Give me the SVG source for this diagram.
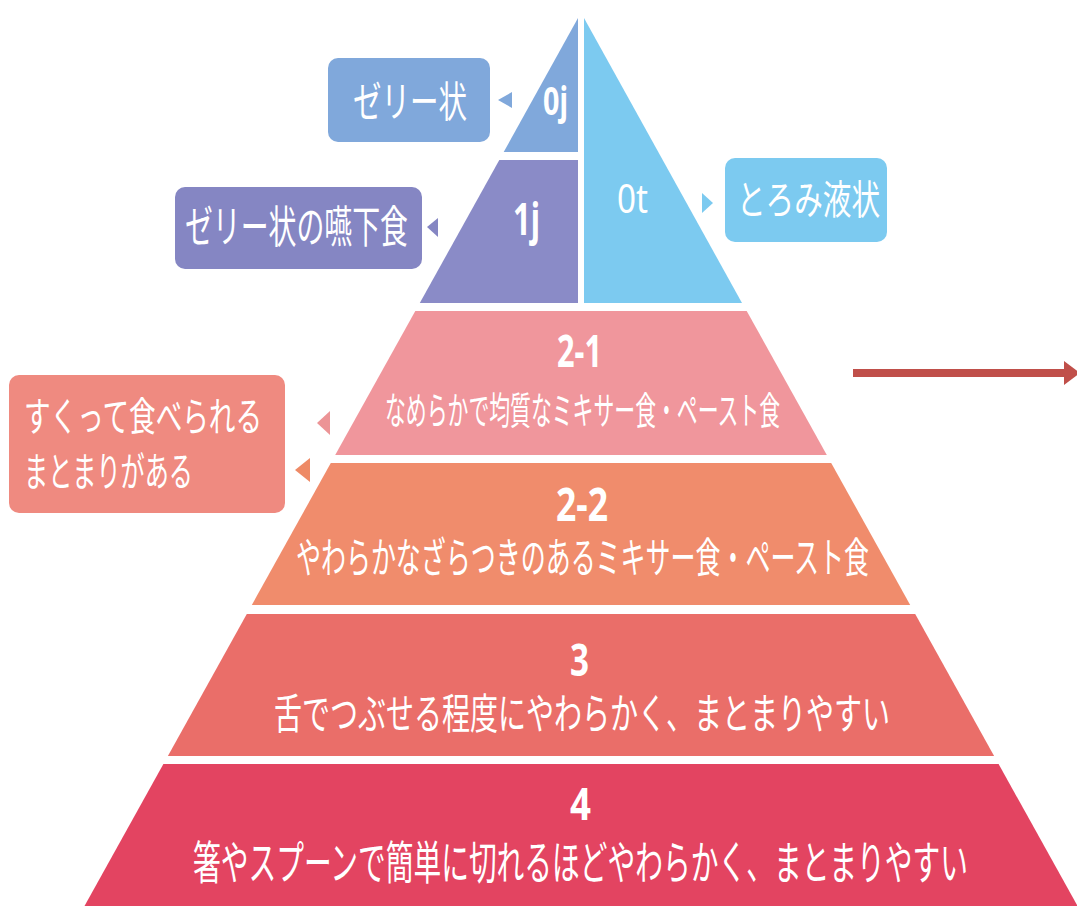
<svg xmlns="http://www.w3.org/2000/svg" width="1077" height="906" viewBox="0 0 1077 906">
<style>
.t{fill:#FFFFFF;font-family:"Noto Sans CJK JP","Noto Sans",sans-serif;}
.n{fill:#FFFFFF;font-family:"Noto Sans","Open Sans",sans-serif;font-weight:bold;}
.r{fill:#FFFFFF;font-family:"Noto Sans","Open Sans",sans-serif;}
</style>
<defs>
<marker id="ah" markerUnits="userSpaceOnUse" markerWidth="18" markerHeight="26" refX="2" refY="13" orient="auto">
<polygon points="0,1 16,13 0,25" fill="#C04F4A"/>
</marker>
</defs>
<rect width="1077" height="906" fill="#FFFFFF"/>

<g id="node-0j">
<polygon points="578,18 578,152 503.7,152" fill="#80A8DB"/>
<text class="n" x="543" y="115" font-size="40" textLength="25" lengthAdjust="spacingAndGlyphs">0j</text>
</g>
<g id="node-1j">
<polygon points="499.3,160 578,160 578,303 419.8,303" fill="#8A8BC7"/>
<text class="n" x="513" y="235" font-size="44" textLength="27" lengthAdjust="spacingAndGlyphs">1j</text>
</g>
<g id="node-0t">
<polygon points="584,18 742,303 584,303" fill="#7CCAF0"/>
<text class="r" x="617" y="213" font-size="40" textLength="31" lengthAdjust="spacingAndGlyphs">0t</text>
</g>
<g id="node-2-1">
<polygon points="415.3,311 746.7,311 826.8,455 335.2,455" fill="#F0969C"/>
<text class="n" x="557" y="367" font-size="44" textLength="45" lengthAdjust="spacingAndGlyphs">2-1</text>
<text class="t" x="385" y="424" font-size="38" textLength="395" lengthAdjust="spacingAndGlyphs">なめらかで均質なミキサー食・ペースト食</text>
</g>
<g id="node-2-2">
<polygon points="330.8,463 831.2,463 910.2,605 251.8,605" fill="#F08C6C"/>
<text class="n" x="556" y="521" font-size="46" textLength="52" lengthAdjust="spacingAndGlyphs">2-2</text>
<text class="t" x="296" y="573" font-size="42" textLength="573" lengthAdjust="spacingAndGlyphs">やわらかなざらつきのあるミキサー食・ペースト食</text>
</g>
<g id="node-3">
<polygon points="246.8,614 915.2,614 994.1,756 167.9,756" fill="#EA6E69"/>
<text class="n" x="570" y="676" font-size="44" textLength="19" lengthAdjust="spacingAndGlyphs">3</text>
<text class="t" x="274" y="729" font-size="42" textLength="616" lengthAdjust="spacingAndGlyphs">舌でつぶせる程度にやわらかく、まとまりやすい</text>
</g>
<g id="node-4">
<polygon points="163.4,764 998.6,764 1077.5,906 84.5,906" fill="#E34461"/>
<text class="n" x="570" y="820" font-size="44" textLength="21" lengthAdjust="spacingAndGlyphs">4</text>
<text class="t" x="193" y="879" font-size="46" textLength="775" lengthAdjust="spacingAndGlyphs">箸やスプーンで簡単に切れるほどやわらかく、まとまりやすい</text>
</g>

<g id="label-jelly">
<rect x="328" y="58" width="162" height="84" rx="10" fill="#80A8DB"/>
<text class="t" x="353" y="117" font-size="42" textLength="114" lengthAdjust="spacingAndGlyphs">ゼリー状</text>
</g>
<g id="label-jelly-swallow">
<rect x="175" y="187" width="247" height="82" rx="10" fill="#8586C3"/>
<text class="t" x="185" y="243" font-size="44" textLength="223" lengthAdjust="spacingAndGlyphs">ゼリー状の嚥下食</text>
</g>
<g id="label-thick-liquid">
<rect x="725" y="158" width="162" height="84" rx="10" fill="#7CCAF0"/>
<text class="t" x="737" y="214" font-size="40" textLength="143" lengthAdjust="spacingAndGlyphs">とろみ液状</text>
</g>
<g id="label-scoop">
<rect x="9" y="375" width="276" height="138" rx="10" fill="#EF8A80"/>
<text class="t" x="24" y="431" font-size="40" textLength="238" lengthAdjust="spacingAndGlyphs">すくって食べられる</text>
<text class="t" x="24" y="486" font-size="40" textLength="169" lengthAdjust="spacingAndGlyphs">まとまりがある</text>
</g>

<g id="connectors">
<polygon points="498,100 512,92 512,108" fill="#80A8DB"/>
<polygon points="427,227 438,218 438,237" fill="#8586C3"/>
<polygon points="713,203 702,193 702,213" fill="#7CCAF0"/>
<polygon points="317,423 330,411 330,435" fill="#EC9496"/>
<polygon points="295,470 310,458 310,482" fill="#EE8A66"/>
<line x1="853" y1="373" x2="1066" y2="373" stroke="#C04F4A" stroke-width="8" marker-end="url(#ah)"/>
</g>
</svg>
